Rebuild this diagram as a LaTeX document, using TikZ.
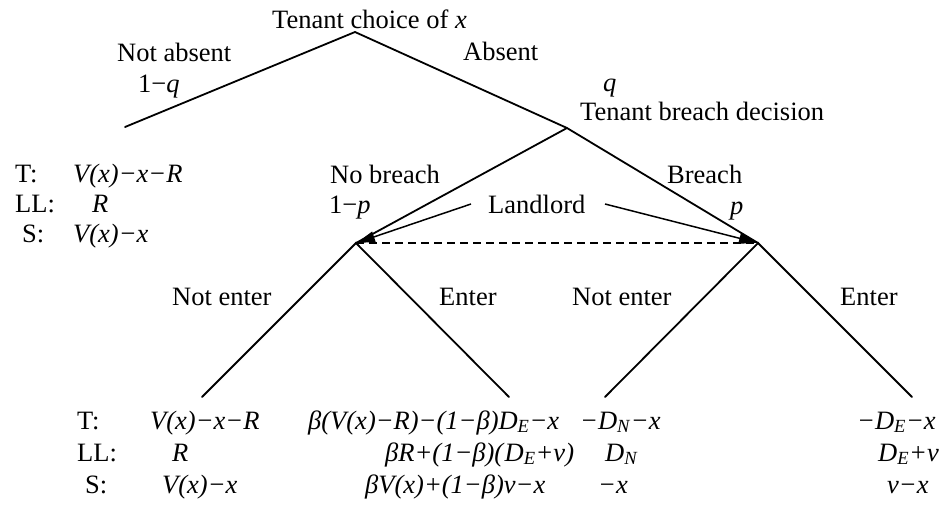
\documentclass[tikz,border=0pt]{standalone}
\usepackage{fontspec}
\setmainfont{Liberation Serif}
\usetikzlibrary{arrows.meta}
\newcommand{\ii}[1]{\textit{#1}}
\newcommand{\sbE}[1]{\textit{D}\textsubscript{\textit{#1}}}
\begin{document}
\begin{tikzpicture}[x=1pt,y=-1pt,
  lbl/.style={inner sep=0pt, anchor=base west, font=\fontsize{26.5}{30}\selectfont},
  branch/.style={line width=1.8pt, line cap=round},
  info/.style={line width=1.5pt, dash pattern=on 8pt off 5pt},
  pointer/.style={line width=1.5pt, -{Triangle[length=18pt,width=11pt]}, shorten >=1pt}]
\useasboundingbox (0,0) rectangle (942,507);
% tree vertices
\coordinate (root) at (355,32);
\coordinate (na) at (125,127);
\coordinate (tb) at (567,128);
\coordinate (nb) at (356,243);
\coordinate (br) at (758,243);
\coordinate (l1) at (202,397);
\coordinate (l2) at (509,397);
\coordinate (l3) at (605,397);
\coordinate (l4) at (912,397);
\coordinate (llA) at (471,204);
\coordinate (llB) at (605,204);
% branches
\draw[branch] (na) -- (root) -- (tb);
\draw[branch] (nb) -- (tb) -- (br);
\draw[branch] (l1) -- (nb) -- (l2);
\draw[branch] (l3) -- (br) -- (l4);
\draw[info] (nb) -- (br);
\draw[pointer] (llA) -- (nb);
\draw[pointer] (llB) -- (br);
% labels
\node[lbl] (t0) at (272,28) {Tenant choice of \ii{x}};
\node[lbl] (t1) at (117,61) {Not absent};
\node[lbl] (t2) at (138,92) {1−\ii{q}};
\node[lbl] (t3) at (463,60) {Absent};
\node[lbl] (t4) at (603,91) {\ii{q}};
\node[lbl] (t5) at (580,120) {Tenant breach decision};
\node[lbl] (a1) at (15,182) {T:};
\node[lbl] (a2) at (73,182) {\ii{V(x)−x−R}};
\node[lbl] (a3) at (15,212) {LL:};
\node[lbl] (a4) at (92,212) {\ii{R}};
\node[lbl] (a5) at (22,242) {S:};
\node[lbl] (a6) at (73,242) {\ii{V(x)−x}};
\node[lbl] (t6) at (330,183) {No breach};
\node[lbl] (t7) at (329,213) {1−\ii{p}};
\node[lbl] (t8) at (488,213) {Landlord};
\node[lbl] (t9) at (667,183) {Breach};
\node[lbl] (t10) at (730,214) {\ii{p}};
\node[lbl] (e1) at (172,305) {Not enter};
\node[lbl] (e2) at (439,305) {Enter};
\node[lbl] (e3) at (572,305) {Not enter};
\node[lbl] (e4) at (840,305) {Enter};
% payoffs
\node[lbl] (b1) at (77,429) {T:};
\node[lbl] (b2) at (150,429) {\ii{V(x)−x−R}};
\node[lbl] (b3) at (308,429) {\ii{β(V(x)−R)−(1−β)}\sbE{E}\ii{−x}};
\node[lbl] (b4) at (580,429) {\ii{−}\sbE{N}\ii{−x}};
\node[lbl] (b5) at (857,429) {\ii{−}\sbE{E}\ii{−x}};
\node[lbl] (c1) at (77,461) {LL:};
\node[lbl] (c2) at (172,461) {\ii{R}};
\node[lbl] (c3) at (385,461) {\ii{βR+(1−β)(}\sbE{E}\ii{+v)}};
\node[lbl] (c4) at (605,461) {\sbE{N}};
\node[lbl] (c5) at (878,461) {\sbE{E}\ii{+v}};
\node[lbl] (d1) at (85,493) {S:};
\node[lbl] (d2) at (162,493) {\ii{V(x)−x}};
\node[lbl] (d3) at (365,493) {\ii{βV(x)+(1−β)v−x}};
\node[lbl] (d4) at (598,493) {\ii{−x}};
\node[lbl] (d5) at (887,493) {\ii{v−x}};
\end{tikzpicture}
\end{document}
